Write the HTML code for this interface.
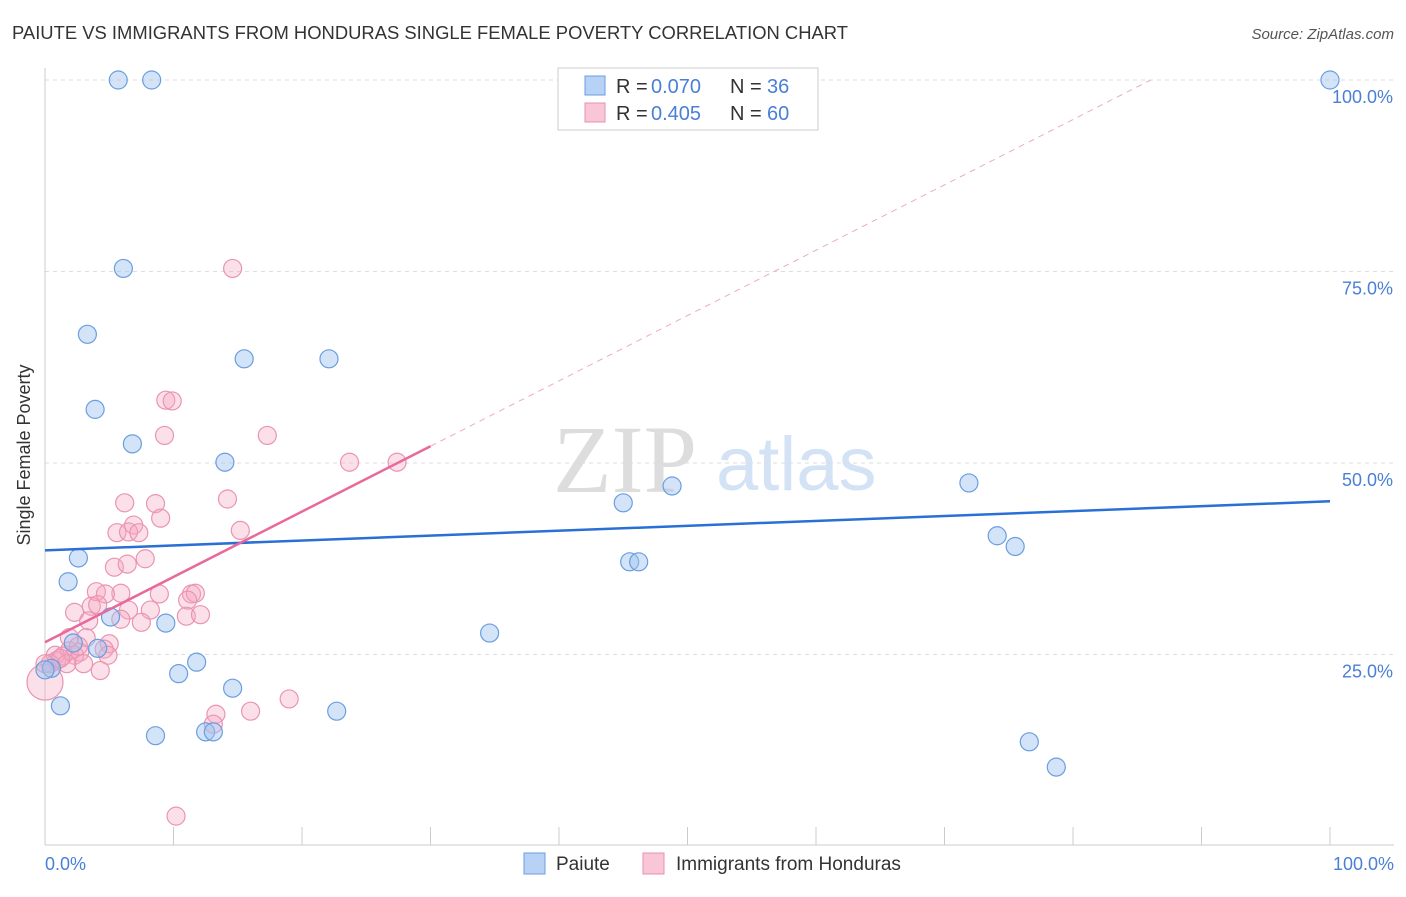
<!DOCTYPE html>
<html><head><meta charset="utf-8"><style>
body{margin:0;background:#fff;font-family:"Liberation Sans",sans-serif;}
svg text{font-family:"Liberation Sans",sans-serif;}
</style></head><body>
<svg id="c" width="1406" height="892">
<text x="12" y="39" font-size="18.5" fill="#333" textLength="836" lengthAdjust="spacingAndGlyphs">PAIUTE VS IMMIGRANTS FROM HONDURAS SINGLE FEMALE POVERTY CORRELATION CHART</text>
<text x="1394" y="39" font-size="15" fill="#555" font-style="italic" text-anchor="end">Source: ZipAtlas.com</text>
<g>
<text x="553" y="492" font-size="96" fill="#ddd" style="font-family:'Liberation Serif',serif">ZIP</text>
<text x="716" y="490" font-size="76" fill="#d4e2f5">atlas</text>
</g>
<g id="grid"></g>
<line x1="45" y1="68" x2="45" y2="845" stroke="#ccc"/>
<line x1="45" y1="845" x2="1394" y2="845" stroke="#ccc"/>
<text x="30" y="455" font-size="18" fill="#333" text-anchor="middle" transform="rotate(-90 30 455)">Single Female Poverty</text>
<text x="45" y="870" font-size="18" fill="#4a7fd6">0.0%</text>
<text x="1394" y="870" font-size="18" fill="#4a7fd6" text-anchor="end">100.0%</text>
<g id="pts"></g>
<g id="lines"></g>
<g>
<rect x="558" y="68" width="260" height="62" fill="#fff" stroke="#ccc"/>
<rect x="585" y="76" width="20" height="19" fill="#b8d2f5" stroke="#6a9ee0"/>
<rect x="585" y="103" width="20" height="19" fill="#f9c6d6" stroke="#e890b0"/>
<text x="616" y="93" font-size="20" fill="#333">R =</text>
<text x="651" y="93" font-size="20" fill="#4a7fd6">0.070</text>
<text x="730" y="93" font-size="20" fill="#333">N =</text>
<text x="767" y="93" font-size="20" fill="#4a7fd6">36</text>
<text x="616" y="120" font-size="20" fill="#333">R =</text>
<text x="651" y="120" font-size="20" fill="#4a7fd6">0.405</text>
<text x="730" y="120" font-size="20" fill="#333">N =</text>
<text x="767" y="120" font-size="20" fill="#4a7fd6">60</text>
</g>
<g>
<rect x="524" y="853" width="21" height="21" fill="#b8d2f5" stroke="#6a9ee0"/>
<text x="556" y="870" font-size="19" fill="#333">Paiute</text>
<rect x="643" y="853" width="21" height="21" fill="#f9c6d6" stroke="#e890b0"/>
<text x="676" y="870" font-size="19" fill="#333">Immigrants from Honduras</text>
</g>
</svg>
<script>
const yTicks=[25,50,75,100];
const yTickLabels=["25.0%","50.0%","75.0%","100.0%"];
const xTicks=[0,10,20,30,40,50,60,70,80,90,100];
const paiuteX=[5.7,8.3,100,6.1,3.3,15.5,22.1,3.9,6.8,14,45,48.8,71.9,74.1,75.5,45.5,46.2,2.6,1.8,5.1,9.4,34.6,2.2,4.1,11.8,10.4,14.6,0.5,0,1.2,22.7,8.6,12.5,13.1,76.6,78.7];
const paiuteY=[100,100,100,75.4,66.8,63.6,63.6,57,52.5,50.1,44.8,47,47.4,40.5,39.1,37.1,37.1,37.6,34.5,29.9,29.1,27.8,26.5,25.8,24,22.5,20.6,23.2,23,18.3,17.6,14.4,14.9,14.9,13.6,10.3];
const hondX=[14.6,9.4,9.9,9.3,17.3,23.7,27.4,6.2,8.6,14.2,9,6.9,5.6,6.5,7.3,15.2,7.8,5.4,6.4,4,5.9,4.7,8.9,11.4,11.7,11.1,2.3,3.6,4.1,6.5,8.2,3.4,5.9,7.5,11,12.1,1.9,3.2,5,4.6,1.9,2.7,2.3,1.4,0.8,4.9,3,0.9,1.7,0.4,4.3,0,19,16,13.3,13.1,10.2,0,1.2,2.6];
const hondY=[75.4,58.2,58.1,53.6,53.6,50.1,50.1,44.8,44.7,45.3,42.8,41.9,40.9,41,40.9,41.2,37.5,36.4,36.8,33.2,33,32.9,32.9,32.9,33,32.1,30.5,31.3,31.5,30.8,30.8,29.4,29.6,29.2,30,30.2,27.2,27.2,26.4,25.7,25.5,25.3,24.9,24.8,24.9,24.9,23.8,24.2,23.8,23.8,22.9,21.4,19.2,17.6,17.2,15.9,3.9,23.8,24.5,26.1];
const blueLine=[38.6,45.0];
const pinkLine=[26.6,0.853];
const X=v=>45+v*12.85, Y=v=>846-v*7.66;
const NS="http://www.w3.org/2000/svg";
function mk(t,a,p){const e=document.createElementNS(NS,t);for(const k in a)e.setAttribute(k,a[k]);p.appendChild(e);return e;}
const grid=document.getElementById('grid');
yTicks.forEach((t,i)=>{
 const l=mk('line',{x1:45,x2:1394,y1:Y(t),y2:Y(t),stroke:'#ddd','stroke-dasharray':'4,4'},grid);
 
 
 const tx=mk('text',{x:1393,y:Y(t)+23,'font-size':18,fill:'#4a7fd6','text-anchor':'end'},grid);
 tx.textContent=yTickLabels[i];
 
 
});
xTicks.forEach(t=>{
 const l=mk('line',{x1:X(t),x2:X(t),y1:827,y2:845,stroke:'#ccc'},grid);
 
 
});
const pts=document.getElementById('pts');
hondX.forEach((x,i)=>{
 const c=mk('circle',{cx:X(x),cy:Y(hondY[i]),r:(i==51?18:9),fill:'rgba(245,165,192,0.35)',stroke:'#e994b3','stroke-width':1.2},pts);
 
 
});
paiuteX.forEach((x,i)=>{
 const c=mk('circle',{cx:X(x),cy:Y(paiuteY[i]),r:9,fill:'rgba(160,195,240,0.45)',stroke:'#6a9ee0','stroke-width':1.2},pts);
 
 
});
const ln=document.getElementById('lines');
let b=mk('line',{x1:X(0),y1:Y(blueLine[0]),x2:X(100),y2:Y(blueLine[1]),stroke:'#2a6fd6','stroke-width':2.5},ln);


const xe=(100-pinkLine[0])/pinkLine[1];
let pd=mk('line',{x1:X(30),y1:Y(pinkLine[0]+30*pinkLine[1]),x2:X(xe),y2:Y(100),stroke:'#eeaac2','stroke-width':1,'stroke-dasharray':'6,5'},ln);


let p=mk('line',{x1:X(0),y1:Y(pinkLine[0]),x2:X(30),y2:Y(pinkLine[0]+30*pinkLine[1]),stroke:'#e8699a','stroke-width':2.5},ln);


</script>
</body></html>
